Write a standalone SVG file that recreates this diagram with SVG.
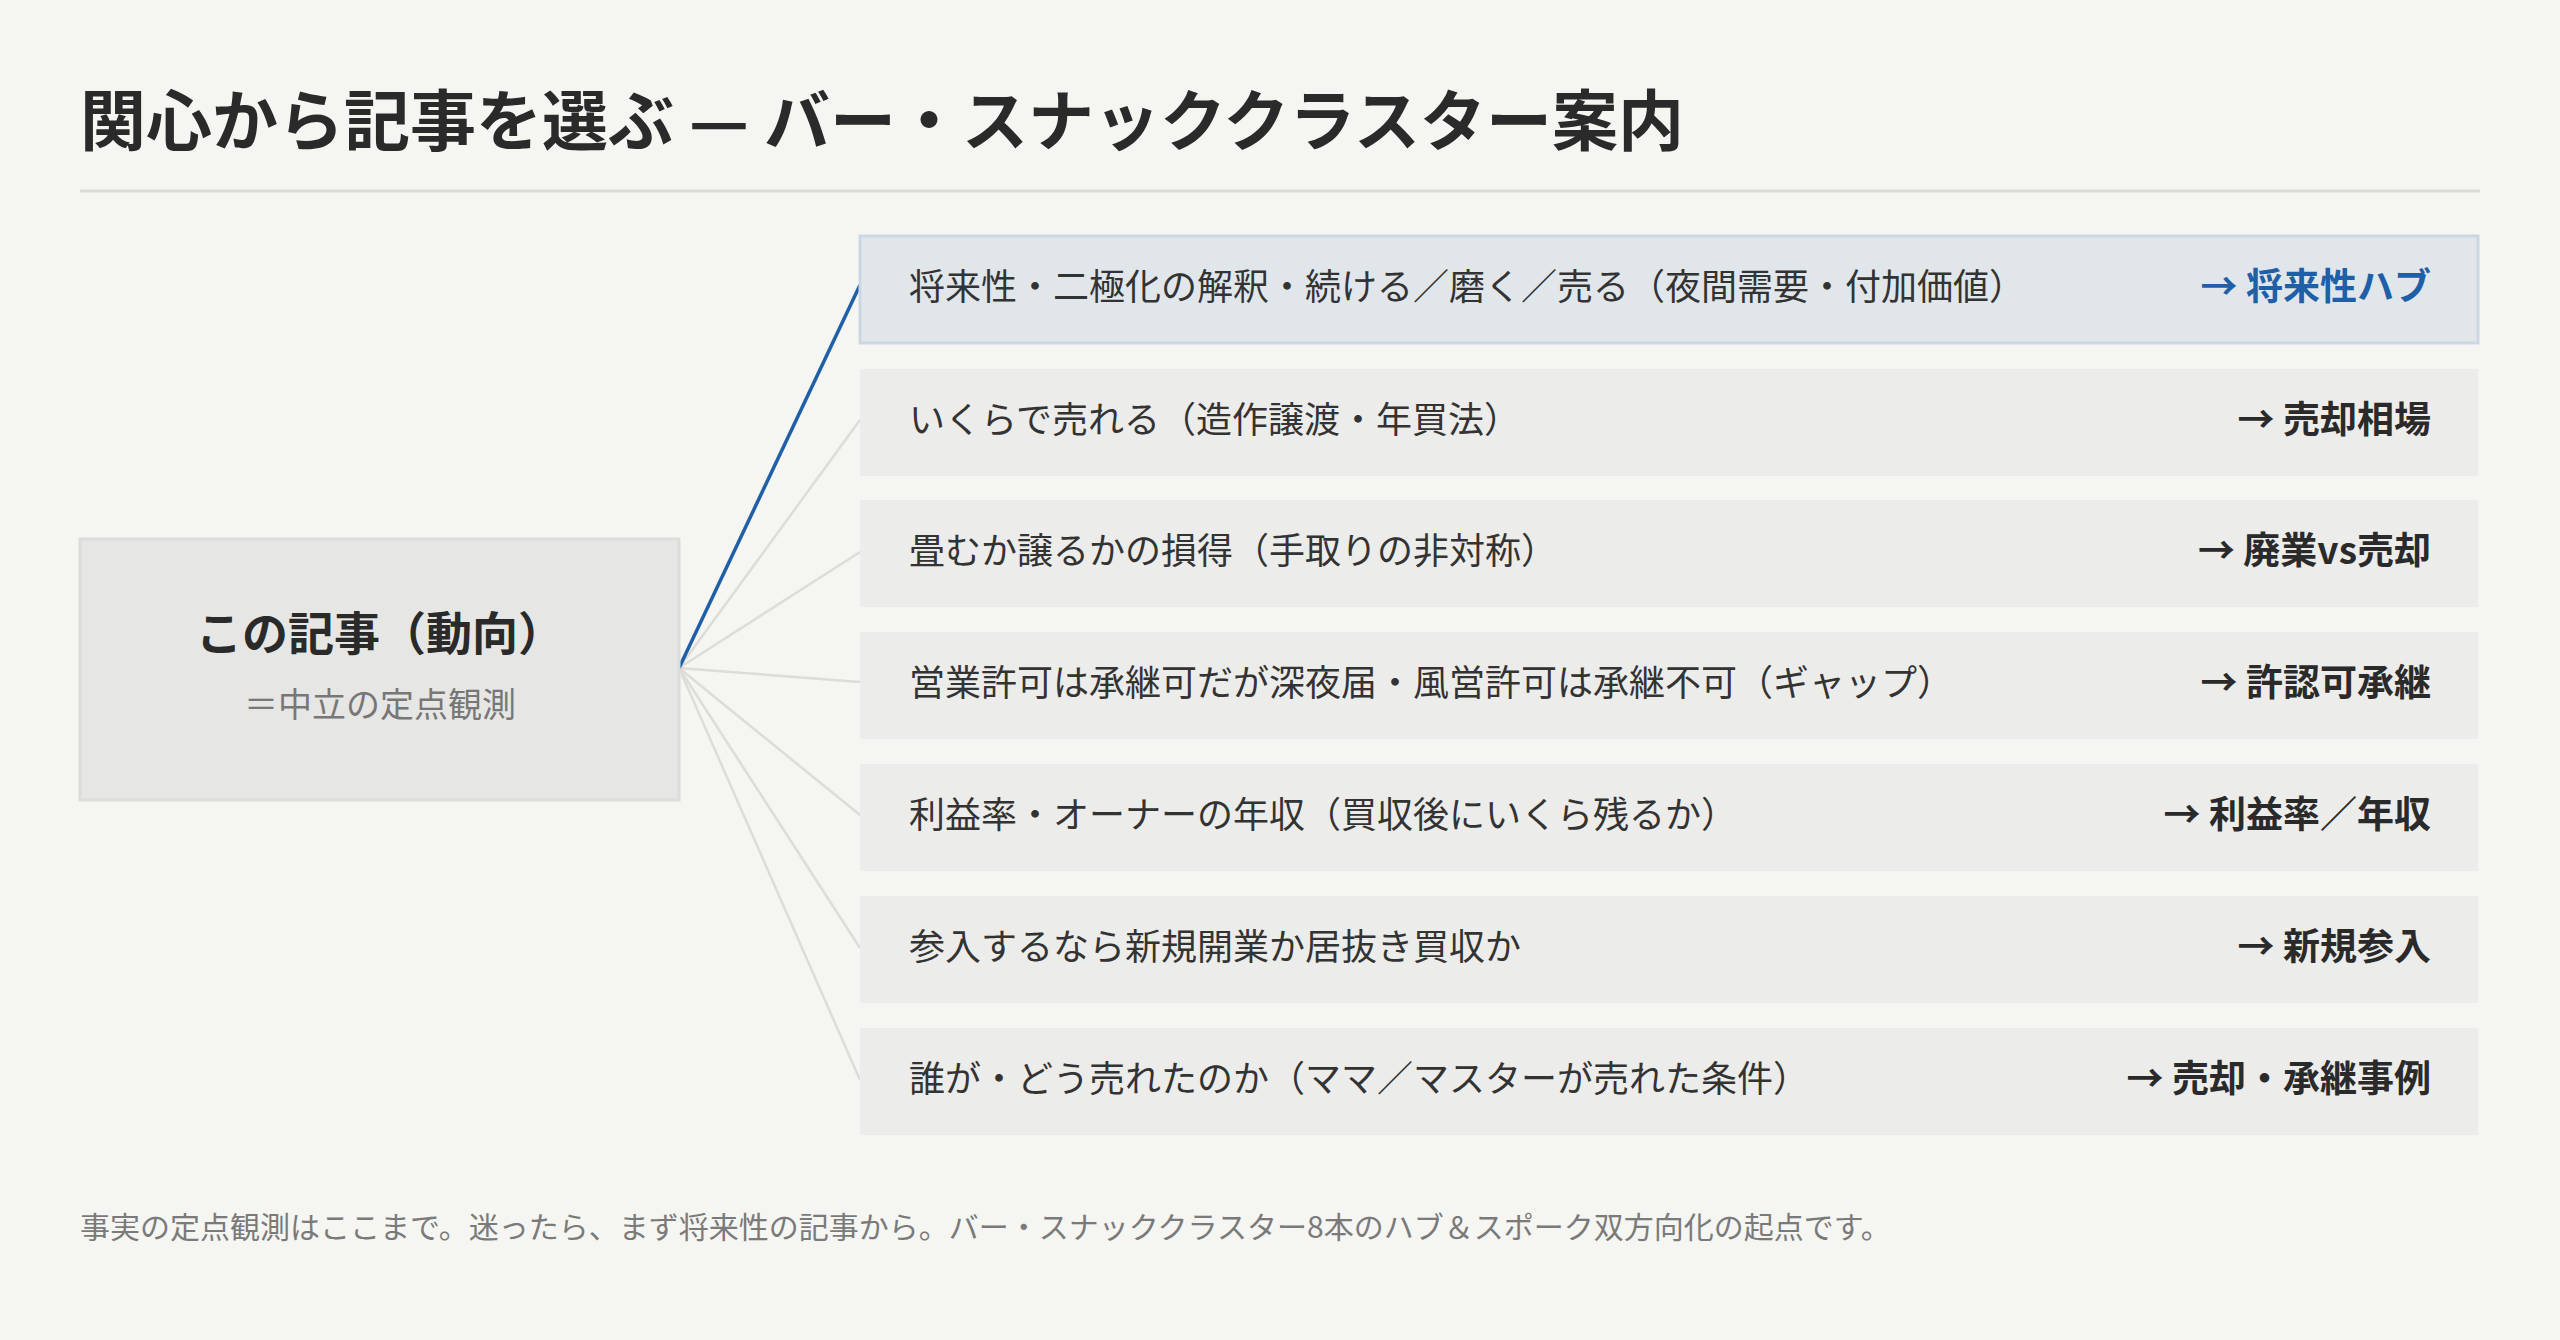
<svg xmlns="http://www.w3.org/2000/svg" width="2560" height="1340" viewBox="0 0 2560 1340">
<style>
text{font-family:"Noto Sans CJK JP","Noto Sans",sans-serif}
.row{fill:#ececea}
.lbl{font-size:36px;fill:#333}
.tgt{font-size:37px;font-weight:700;fill:#2a2a2a;text-anchor:end}
.c{stroke:#dddcd7;stroke-width:2.5;fill:none}
</style>
<rect width="2560" height="1340" fill="#f5f5f1"/>
<text x="80" y="145" font-size="66" font-weight="700" fill="#2a2a2a">関心から記事を選ぶ — バー・スナッククラスター案内</text>
<line x1="80" y1="191" x2="2480" y2="191" stroke="#dcdcd8" stroke-width="3"/>
<g id="connectors">
<line class="c" x1="679" y1="668" x2="860" y2="420"/>
<line class="c" x1="679" y1="668" x2="860" y2="552"/>
<line class="c" x1="679" y1="668" x2="860" y2="682"/>
<line class="c" x1="679" y1="668" x2="860" y2="815"/>
<line class="c" x1="679" y1="668" x2="860" y2="948"/>
<line class="c" x1="679" y1="668" x2="860" y2="1080"/>
<line x1="679" y1="668" x2="860" y2="285" stroke="#1f5fa8" stroke-width="3.5"/>
</g>
<g id="center">
<rect x="80" y="539" width="599" height="261" fill="#e6e6e4" stroke="#dcdcda" stroke-width="3"/>
<text x="380" y="650" font-size="46" font-weight="700" fill="#2a2a2a" text-anchor="middle">この記事（動向）</text>
<text x="380" y="717" font-size="34" fill="#777" text-anchor="middle">＝中立の定点観測</text>
</g>
<g id="r1"><rect x="860" y="236" width="1618" height="107" fill="#e1e6eb" stroke="#cbd7e4" stroke-width="3"/>
<text class="lbl" x="909" y="300">将来性・二極化の解釈・続ける／磨く／売る（夜間需要・付加価値）</text>
<text class="tgt" x="2431" y="300" style="fill:#1f5fa8">→ 将来性ハブ</text></g>
<g id="r2"><rect class="row" x="860" y="369" width="1618" height="107"/>
<text class="lbl" x="909" y="433">いくらで売れる（造作譲渡・年買法）</text>
<text class="tgt" x="2431" y="433">→ 売却相場</text></g>
<g id="r3"><rect class="row" x="860" y="500" width="1618" height="107"/>
<text class="lbl" x="909" y="564">畳むか譲るかの損得（手取りの非対称）</text>
<text class="tgt" x="2431" y="564">→ 廃業vs売却</text></g>
<g id="r4"><rect class="row" x="860" y="632" width="1618" height="107"/>
<text class="lbl" x="909" y="696">営業許可は承継可だが深夜届・風営許可は承継不可（ギャップ）</text>
<text class="tgt" x="2431" y="696">→ 許認可承継</text></g>
<g id="r5"><rect class="row" x="860" y="764" width="1618" height="107"/>
<text class="lbl" x="909" y="828">利益率・オーナーの年収（買収後にいくら残るか）</text>
<text class="tgt" x="2431" y="828">→ 利益率／年収</text></g>
<g id="r6"><rect class="row" x="860" y="896" width="1618" height="107"/>
<text class="lbl" x="909" y="960">参入するなら新規開業か居抜き買収か</text>
<text class="tgt" x="2431" y="960">→ 新規参入</text></g>
<g id="r7"><rect class="row" x="860" y="1028" width="1618" height="107"/>
<text class="lbl" x="909" y="1092">誰が・どう売れたのか（ママ／マスターが売れた条件）</text>
<text class="tgt" x="2431" y="1092">→ 売却・承継事例</text></g>
<text x="80" y="1238" font-size="30" fill="#7a7a7a">事実の定点観測はここまで。迷ったら、まず将来性の記事から。バー・スナッククラスター8本のハブ＆スポーク双方向化の起点です。</text>
</svg>
